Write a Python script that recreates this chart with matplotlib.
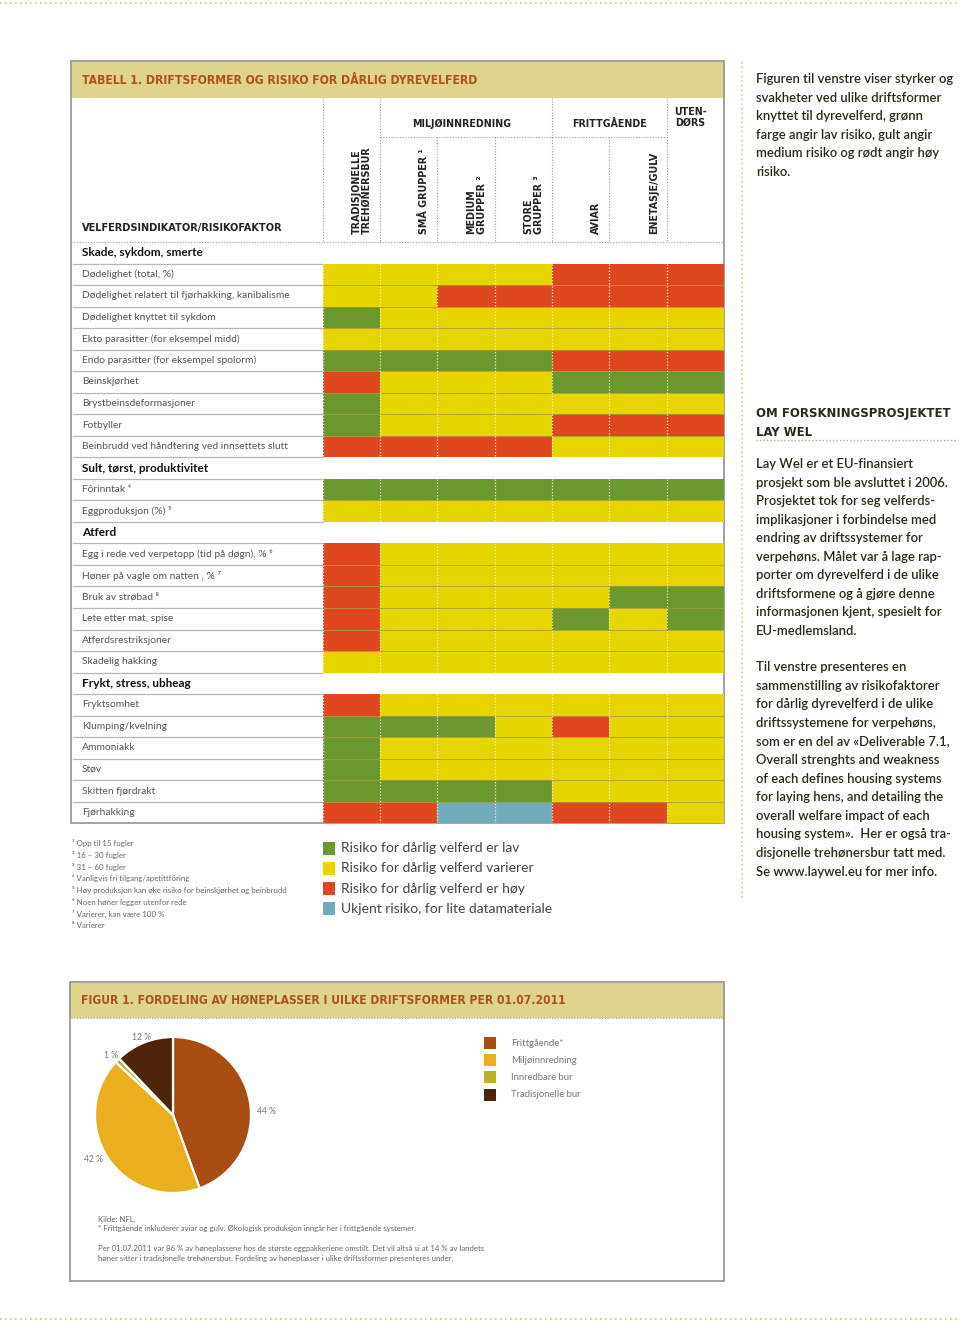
import matplotlib
matplotlib.use("Agg")
import matplotlib.pyplot as plt
import numpy as np
from matplotlib.colors import ListedColormap
from matplotlib.patches import Rectangle

# ---------------- data ----------------
columns = ["TRADISJONELLE\nTREHØNERSBUR", "SMÅ GRUPPER ¹", "MEDIUM\nGRUPPER ²",
           "STORE\nGRUPPER ³", "AVIAR", "ENETASJE/GULV", ""]
groups = [("MILJØINNREDNING", 1, 4), ("FRITTGÅENDE", 4, 6), ("UTEN-\nDØRS", 6, 7)]

row_labels = [
    "Skade, sykdom, smerte",
    "Dødelighet (total, %)",
    "Dødelighet relatert til fjørhakking, kanibalisme",
    "Dødelighet knyttet til sykdom",
    "Ekto parasitter (for eksempel midd)",
    "Endo parasitter (for eksempel spolorm)",
    "Beinskjørhet",
    "Brystbeinsdeformasjoner",
    "Fotbyller",
    "Beinbrudd ved håndtering ved innsettets slutt",
    "Sult, tørst, produktivitet",
    "Fôrinntak ⁴",
    "Eggproduksjon (%) ⁵",
    "Atferd",
    "Egg i rede ved verpetopp (tid på døgn), % ⁶",
    "Høner på vagle om natten , % ⁷",
    "Bruk av strøbad ⁸",
    "Lete etter mat, spise",
    "Atferdsrestriksjoner",
    "Skadelig hakking",
    "Frykt, stress, ubheag",
    "Fryktsomhet",
    "Klumping/kvelning",
    "Ammoniakk",
    "Støv",
    "Skitten fjørdrakt",
    "Fjørhakking",
]
# 0 = lav (grønn), 1 = varierer (gul), 2 = høy (rød), 3 = ukjent (blå); None = seksjonsrad
risk = [
    None,
    [1, 1, 1, 1, 2, 2, 2],
    [1, 1, 2, 2, 2, 2, 2],
    [0, 1, 1, 1, 1, 1, 1],
    [1, 1, 1, 1, 1, 1, 1],
    [0, 0, 0, 0, 2, 2, 2],
    [2, 1, 1, 1, 0, 0, 0],
    [0, 1, 1, 1, 1, 1, 1],
    [0, 1, 1, 1, 2, 2, 2],
    [2, 2, 2, 2, 1, 1, 1],
    None,
    [0, 0, 0, 0, 0, 0, 0],
    [1, 1, 1, 1, 1, 1, 1],
    None,
    [2, 1, 1, 1, 1, 1, 1],
    [2, 1, 1, 1, 1, 1, 1],
    [2, 1, 1, 1, 1, 0, 0],
    [2, 1, 1, 1, 0, 1, 0],
    [2, 1, 1, 1, 1, 1, 1],
    [1, 1, 1, 1, 1, 1, 1],
    None,
    [2, 1, 1, 1, 1, 1, 1],
    [0, 0, 0, 1, 2, 1, 1],
    [0, 1, 1, 1, 1, 1, 1],
    [0, 1, 1, 1, 1, 1, 1],
    [0, 0, 0, 0, 1, 1, 1],
    [2, 2, 3, 3, 2, 2, 1],
]
risk_legend = ["Risiko for dårlig velferd er lav", "Risiko for dårlig velferd varierer",
               "Risiko for dårlig velferd er høy", "Ukjent risiko, for lite datamateriale"]
footnotes = ["¹ Opp til 15 fugler", "² 16 – 30 fugler", "³ 31 – 60 fugler",
             "⁴ Vanligvis fri tilgang/apetittfôring",
             "⁵ Høy produksjon kan øke risiko for beinskjørhet og beinbrudd",
             "⁶ Noen høner legger utenfor rede", "⁷ Varierer, kan være 100 %", "⁸ Varierer"]

pie_labels = ["Frittgående*", "Miljøinnredning", "Innredbare bur", "Tradisjonelle bur"]
pie_values = [44, 42, 1, 12]

intro_lines = ["Figuren til venstre viser styrker og", "svakheter ved ulike driftsformer",
               "knyttet til dyrevelferd, grønn", "farge angir lav risiko, gult angir",
               "medium risiko og rødt angir høy", "risiko."]
box_title = ["OM FORSKNINGSPROSJEKTET", "LAY WEL"]
para1 = ["Lay Wel er et EU-finansiert", "prosjekt som ble avsluttet i 2006.",
         "Prosjektet tok for seg velferds-", "implikasjoner i forbindelse med",
         "endring av driftssystemer for", "verpehøns. Målet var å lage rap-",
         "porter om dyrevelferd i de ulike", "driftsformene og å gjøre denne",
         "informasjonen kjent, spesielt for", "EU-medlemsland."]
para2 = ["Til venstre presenteres en", "sammenstilling av risikofaktorer",
         "for dårlig dyrevelferd i de ulike", "driftssystemene for verpehøns,",
         "som er en del av «Deliverable 7.1,", "Overall strenghts and weakness",
         "of each defines housing systems", "for laying hens, and detailing the",
         "overall welfare impact of each", "housing system».  Her er også tra-",
         "disjonelle trehønersbur tatt med.", "Se www.laywel.eu for mer info."]
notes = ["Kilde: NFL.",
         "* Frittgående inkluderer aviar og gulv. Økologisk produksjon inngår her i frittgående systemer.",
         "Per 01.07.2011 var 86 % av høneplassene hos de største eggpakkeriene omstilt. Det vil altså si at 14 % av landets",
         "høner sitter i tradisjonelle trehønersbur. Fordeling av høneplasser i ulike driftssformer presenteres under."]

# ---------------- style ----------------
GREEN, YELLOW, RED, BLUE = "#6b982e", "#e7d500", "#df4720", "#70acb9"
BAND = "#ded48c"
TITLE_C = "#b0501b"
BODY = ["Lato", "DejaVu Sans"]
HEAD = ["DejaVu Sans"]

W, H = 960, 1323
fig = plt.figure(figsize=(9.6, 13.23), dpi=100)
page = fig.add_axes([0, 0, 1, 1])
page.set_xlim(0, W)
page.set_ylim(H, 0)
page.axis("off")


def ax_at(x0, y0, x1, y1):
    return fig.add_axes([x0 / W, 1 - y1 / H, (x1 - x0) / W, (y1 - y0) / H])


def T(x, y, s, size, color="#333333", weight="normal", ha="left", va="center",
      family=BODY, **kw):
    page.text(x, y, s, fontsize=size, color=color, fontweight=weight, ha=ha, va=va,
              family=family, **kw)


def TH(x, y, s, size, color="#222222", ha="left", va="center", **kw):
    page.text(x, y, s, fontsize=size, color=color, fontweight="bold", ha=ha, va=va,
              family=HEAD, fontstretch="condensed", **kw)


# page dotted edges
page.plot([0, W], [3, 3], color="#cfc86a", lw=1.2, ls=(0, (1, 2)))
page.plot([0, W], [1319, 1319], color="#cfc86a", lw=1.2, ls=(0, (1, 2)))

# ---------------- table 1 ----------------
X0, X1 = 71, 724
GX0 = 322.5
TOP, HDR_BOT, BOT = 61, 242, 823.3
nrows = len(row_labels)
rowh = (BOT - HDR_BOT) / nrows
colw = (X1 - GX0) / len(columns)

page.add_patch(Rectangle((X0, TOP), X1 - X0, 37, facecolor=BAND, edgecolor="none"))
page.add_patch(Rectangle((X0, TOP), X1 - X0, BOT - TOP, facecolor="none",
                         edgecolor="#9b9b9b", lw=1.3))
TH(82, 80, "TABELL 1. DRIFTSFORMER OG RISIKO FOR DÅRLIG DYREVELFERD", 8.75, color=TITLE_C)

dot = (0, (1, 1.5))
gray = "#9a9a9a"
for j in range(len(columns)):
    xe = GX0 + j * colw
    if j in (0, 1, 4, 6):
        page.plot([xe, xe], [98, HDR_BOT], color=gray, lw=0.8, ls=dot)
    else:
        page.plot([xe, xe], [137, HDR_BOT], color=gray, lw=0.8, ls=dot)
page.plot([GX0 + colw, GX0 + 6 * colw], [137, 137], color=gray, lw=0.8, ls=dot)
page.plot([X0, X1], [HDR_BOT, HDR_BOT], color=gray, lw=0.8, ls=dot)

TH(82, 228, "VELFERDSINDIKATOR/RISIKOFAKTOR", 7.8)
for j, lab in enumerate(columns):
    if lab:
        xr = GX0 + (j + 1) * colw - 8
        page.text(xr, 234, lab, rotation=90, rotation_mode="anchor", ha="left",
                  va="bottom", fontsize=7.7, fontweight="bold", color="#222222",
                  family=HEAD, fontstretch="condensed", multialignment="left",
                  linespacing=1.05)
for name, a, b in groups:
    xc = GX0 + (a + b) / 2 * colw
    if a == 1:
        xc -= 4
    if a == 6:
        xc = 690
    yc = 117.5 if "\n" in name else 124
    TH(xc, yc, name, 7.6, ha="center", multialignment="center", linespacing=1.05)

# row labels + separators
for i, lab in enumerate(row_labels):
    yc = HDR_BOT + (i + 0.5) * rowh
    if risk[i] is None:
        T(82, yc, lab, 8.5, color="#111111", weight="bold")
    else:
        T(82, yc, lab, 7.35, color="#555555")
    yb = HDR_BOT + (i + 1) * rowh
    if i < nrows - 1:
        page.plot([73, GX0], [yb, yb], color="#b8b8b8", lw=0.9)

# heat grid
M = np.array([[np.nan] * len(columns) if r is None else r for r in risk], dtype=float)
M = np.ma.masked_invalid(M)
gax = ax_at(GX0, HDR_BOT, X1, BOT)
gax.pcolormesh(np.arange(len(columns) + 1), np.arange(nrows + 1), M,
               cmap=ListedColormap([GREEN, YELLOW, RED, BLUE]), vmin=-0.5, vmax=3.5)
gax.set_xlim(0, len(columns))
gax.set_ylim(nrows, 0)
gax.axis("off")
blocks = []
start = None
for i, r in enumerate(risk + [None]):
    if r is not None and start is None:
        start = i
    if r is None and start is not None:
        blocks.append((start, i))
        start = None
for a, b in blocks:
    for k in range(a + 1, b):
        gax.plot([0, len(columns)], [k, k], color="#a89e3a", lw=0.8, alpha=0.8)
    for j in range(0, len(columns)):
        gax.plot([j, j], [a, b], color="#f4efc8", lw=0.9, ls=(0, (1, 1.5)))

# footnotes
for k, s in enumerate(footnotes):
    T(72, 843 + k * 11.8, s, 5.7, color="#666666")

# risk legend
for k, (s, c) in enumerate(zip(risk_legend, [GREEN, YELLOW, RED, BLUE])):
    y = 848 + k * 20.3
    page.add_patch(Rectangle((323, y - 6.5), 12, 13, facecolor=c, edgecolor="none"))
    T(341, y, s, 10.0, color="#444444")

# ---------------- right column ----------------
page.plot([742, 742], [62, 900], color="#cdc57a", lw=1.1, ls=(0, (1, 2)))
RC = "#2b2a18"
RW = "semibold"
for k, s in enumerate(intro_lines):
    T(756, 79 + k * 18.6, s, 9.4, color=RC, weight=RW)
for k, s in enumerate(box_title):
    TH(756, 413 + k * 19, s, 9.4, color=RC)
page.plot([756, 958], [439.5, 439.5], color="#b0aa80", lw=1, ls=(0, (1, 1.5)))
for k, s in enumerate(para1):
    T(756, 464 + k * 18.56, s, 9.4, color=RC, weight=RW)
for k, s in enumerate(para2):
    T(756, 667 + k * 18.6, s, 9.4, color=RC, weight=RW)

# ---------------- figure 1 ----------------
FTOP, FBOT = 982, 1281
page.add_patch(Rectangle((X0 - 1, FTOP), X1 - X0 + 1, 36, facecolor=BAND, edgecolor="none"))
page.add_patch(Rectangle((X0 - 1, FTOP), X1 - X0 + 1, FBOT - FTOP, facecolor="none",
                         edgecolor="#9b9b9b", lw=1.3))
page.plot([X0, X1], [1018, 1018], color=gray, lw=0.8, ls=dot)
TH(81, 1000, "FIGUR 1. FORDELING AV HØNEPLASSER I UILKE DRIFTSFORMER PER 01.07.2011", 8.65,
   color=TITLE_C)

pie_colors = ["#a84d12", "#ebae1f", "#b9b424", "#4f250a"]
cx, cy, r = 173, 1115, 78
pax = ax_at(cx - r, cy - r, cx + r, cy + r)
pax.pie(pie_values, colors=pie_colors, startangle=90, counterclock=False,
        wedgeprops=dict(edgecolor="white", linewidth=1.6))
pax.set_xlim(-1.0, 1.0)
pax.set_ylim(-1.0, 1.0)
pax.set_aspect("equal")
pax.axis("off")
for p in pax.patches:
    p.set_clip_on(False)

label_pos = [(266, 1112), (94, 1160), (111, 1055), (142, 1037)]
for (x, y), v in zip(label_pos, pie_values):
    T(x, y, f"{v} %", 6.2, color="#777777", ha="center")

for k, (s, c) in enumerate(zip(pie_labels, pie_colors)):
    y = 1043 + k * 17.2
    page.add_patch(Rectangle((484, y - 6), 12, 12, facecolor=c, edgecolor="none"))
    T(511, y, s, 6.8, color="#777777")

for s, y in zip(notes, [1219, 1229, 1248, 1259]):
    T(98, y, s, 5.6, color="#666666")

fig.savefig("out.png", dpi=100)
